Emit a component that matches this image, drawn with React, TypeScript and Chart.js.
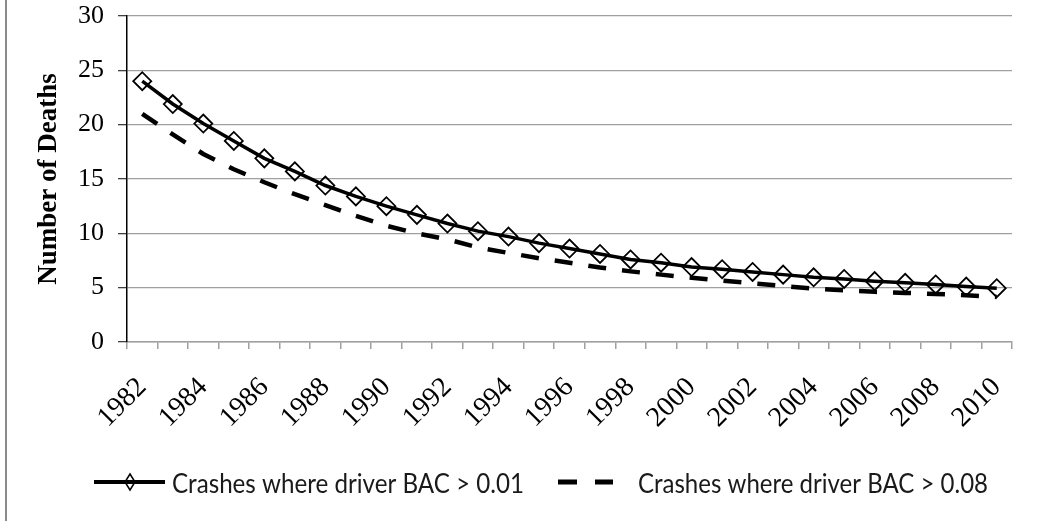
import React, { useEffect, useRef } from "react";
import { Chart, registerables } from "chart.js";

Chart.register(...registerables);

const years = [
  "1982", "1983", "1984", "1985", "1986", "1987", "1988", "1989", "1990", "1991",
  "1992", "1993", "1994", "1995", "1996", "1997", "1998", "1999", "2000", "2001",
  "2002", "2003", "2004", "2005", "2006", "2007", "2008", "2009", "2010",
];

const bac001 = [
  24.0, 21.9, 20.1, 18.5, 16.9, 15.7, 14.4, 13.4, 12.5, 11.7,
  10.9, 10.2, 9.7, 9.1, 8.6, 8.1, 7.6, 7.3, 6.9, 6.7,
  6.45, 6.2, 5.95, 5.8, 5.6, 5.45, 5.3, 5.1, 4.95,
];

const bac008 = [
  21.0, 19.1, 17.3, 15.9, 14.7, 13.6, 12.6, 11.6, 10.7, 10.0,
  9.45, 8.7, 8.2, 7.7, 7.3, 6.85, 6.5, 6.2, 5.92, 5.65,
  5.4, 5.15, 4.9, 4.75, 4.62, 4.52, 4.42, 4.3, 4.15,
];

const seriesNames = ["Crashes where driver BAC > 0.01", "Crashes where driver BAC > 0.08"];
const yAxisTitle = "Number of Deaths";

const decorPlugin = {
  id: "decor",
  beforeDraw(chart: any) {
    const ctx = chart.ctx;
    ctx.save();
    ctx.fillStyle = "#ffffff";
    ctx.fillRect(0, 0, chart.width, chart.height);
    ctx.fillStyle = "#8a8a8a";
    ctx.fillRect(5, 0, 2, chart.height);
    ctx.restore();
  },
  afterDraw(chart: any) {
    const ctx = chart.ctx;
    const ly = 482;
    ctx.save();
    ctx.strokeStyle = "#000";
    ctx.lineWidth = 4;
    ctx.beginPath();
    ctx.moveTo(94, ly);
    ctx.lineTo(165, ly);
    ctx.stroke();
    ctx.lineWidth = 1.5;
    ctx.beginPath();
    ctx.moveTo(130, ly - 8);
    ctx.lineTo(135, ly);
    ctx.lineTo(130, ly + 8);
    ctx.lineTo(125, ly);
    ctx.closePath();
    ctx.stroke();
    ctx.lineWidth = 5;
    ctx.beginPath();
    ctx.moveTo(558, ly);
    ctx.lineTo(577, ly);
    ctx.moveTo(595, ly);
    ctx.lineTo(613, ly);
    ctx.stroke();
    ctx.fillStyle = "#1a1a1a";
    ctx.font = "26px Lato, 'Noto Sans', sans-serif";
    ctx.textBaseline = "alphabetic";
    ctx.textAlign = "left";
    ctx.fillText(seriesNames[0], 172, 493, 352);
    ctx.fillText(seriesNames[1], 638, 493, 350);
    ctx.restore();
  },
};

export default function App() {
  const ref = useRef<HTMLCanvasElement | null>(null);

  useEffect(() => {
    document.body.style.margin = "0";
    if (!ref.current) return;
    const chart = new Chart(ref.current, {
      type: "line",
      data: {
        labels: years,
        datasets: [
          {
            label: seriesNames[0],
            data: bac001,
            borderColor: "#000",
            borderWidth: 3.5,
            pointStyle: "rectRot",
            pointRadius: 9,
            pointBorderWidth: 1.8,
            pointBorderColor: "#000",
            pointBackgroundColor: "rgba(255,255,255,0)",
            tension: 0,
          },
          {
            label: seriesNames[1],
            data: bac008,
            borderColor: "#000",
            borderWidth: 4.5,
            borderDash: [18, 16],
            pointRadius: 0,
            tension: 0,
          },
        ],
      },
      options: {
        responsive: false,
        animation: false,
        layout: { padding: { left: 0, right: 50, top: 0, bottom: 0 } },
        plugins: {
          legend: { display: false },
          tooltip: { enabled: false },
        },
        scales: {
          x: {
            type: "category",
            offset: true,
            grid: {
              offset: true,
              drawOnChartArea: false,
              drawTicks: true,
              tickLength: 7,
              color: "#a0a0a0",
              lineWidth: 1.5,
            },
            border: { color: "#a0a0a0", width: 1.5 },
            ticks: {
              autoSkip: false,
              maxRotation: 45,
              minRotation: 45,
              padding: 22,
              color: "#000",
              font: { family: "'Liberation Serif', serif", size: 28 },
              callback: (_v: any, i: number) => (i % 2 === 0 ? years[i] : ""),
            },
            afterFit: (s: any) => {
              s.height = 179;
            },
          },
          y: {
            min: 0,
            max: 30,
            ticks: {
              stepSize: 5,
              padding: 14,
              color: "#000",
              font: { family: "'Liberation Serif', serif", size: 26 },
            },
            grid: {
              color: "#a0a0a0",
              tickColor: "#404040",
              tickLength: 9,
              lineWidth: 1.3,
            },
            border: { color: "#000", width: 1.5 },
            title: {
              display: true,
              text: yAxisTitle,
              color: "#000",
              font: { family: "'Liberation Serif', serif", size: 27, weight: "bold" },
              padding: { top: 33, bottom: 0 },
            },
            afterFit: (s: any) => {
              s.width = 127;
              s.paddingTop = 16;
              s.paddingBottom = 0;
            },
          },
        },
      },
      plugins: [decorPlugin],
    });
    return () => chart.destroy();
  }, []);

  return (
    <div style={{ width: 1062, height: 521 }}>
      <canvas ref={ref} width={1062} height={521} style={{ display: "block" }} />
    </div>
  );
}
